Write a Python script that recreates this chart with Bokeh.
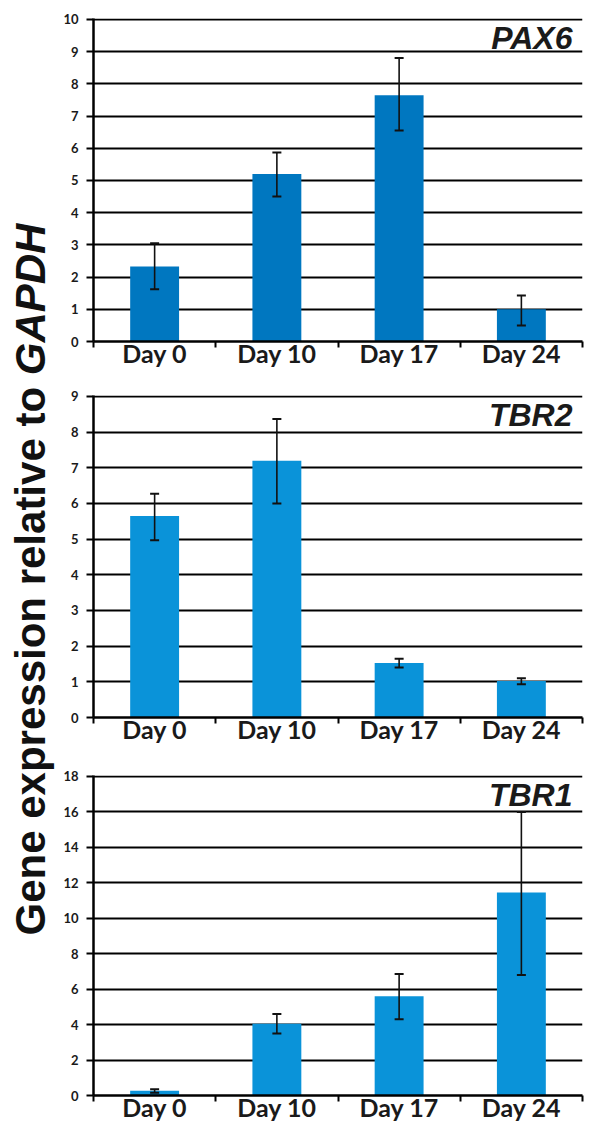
import math
from bokeh.plotting import figure
from bokeh.layouts import row, column
from bokeh.models import (FactorRange, Range1d, LinearAxis, FixedTicker,
                          SingleIntervalTicker, Whisker, TeeHead, ColumnDataSource, Label)
from bokeh.core.properties import value
from bokeh.embed import file_html
from bokeh.resources import INLINE

# ---------------- data ----------------
days = ["Day 0", "Day 10", "Day 17", "Day 24"]
genes = ["PAX6", "TBR2", "TBR1"]

pax6_mean = [2.33, 5.20, 7.65, 1.00]
pax6_low = [1.62, 4.50, 6.55, 0.50]
pax6_high = [3.05, 5.87, 8.80, 1.43]

tbr2_mean = [5.65, 7.20, 1.53, 1.02]
tbr2_low = [4.97, 6.00, 1.40, 0.93]
tbr2_high = [6.27, 8.37, 1.65, 1.10]

tbr1_mean = [0.27, 4.05, 5.60, 11.45]
tbr1_low = [0.15, 3.50, 4.30, 6.80]
tbr1_high = [0.35, 4.60, 6.85, 16.00]

y_max = [10, 9, 18]
y_step = [1, 1, 2]
bar_colors = ["#0077c0", "#0a93d9", "#0a93d9"]
y_label_main = "Gene expression relative to "
y_label_gene = "GAPDH"

TICK_FONT = "Lato"
TITLE_FONT = "Liberation Sans"

LAB_W = 60
PANEL_W = 592 - LAB_W


def make_panel(gene, mean, low, high, ymax, step, color, height, btop, bbottom):
    p = figure(x_range=FactorRange(*days), y_range=Range1d(0, ymax * 1.003),
               width=PANEL_W, height=height, output_backend="svg", toolbar_location=None,
               x_axis_location=None, min_border_left=91 - LAB_W, min_border_right=10,
               min_border_top=btop, min_border_bottom=bbottom)
    p.outline_line_color = None
    p.background_fill_color = "white"
    p.border_fill_color = "white"
    p.xgrid.visible = False

    # y axis
    yax = p.yaxis[0]
    yax.ticker = SingleIntervalTicker(interval=step)
    yax.axis_line_color = "black"
    yax.axis_line_width = 2.5
    yax.major_tick_out = 7
    yax.major_tick_in = 0
    yax.major_tick_line_width = 2
    yax.major_tick_line_color = "black"
    yax.minor_tick_out = 0
    yax.minor_tick_in = 0
    yax.major_label_text_font = TICK_FONT
    yax.major_label_text_font_style = "bold"
    yax.major_label_text_font_size = "13px"
    yax.major_label_text_color = "#1a1a1a"
    yax.major_label_standoff = 8

    p.ygrid.grid_line_color = "black"
    p.ygrid.grid_line_width = 2

    # x axis: labels at category centres, ticks at category boundaries
    centres = [i + 0.5 for i in range(len(days))]
    edges = [float(i) for i in range(len(days) + 1)]
    xax = LinearAxis(ticker=FixedTicker(ticks=centres, minor_ticks=edges),
                     major_label_overrides={c: d for c, d in zip(centres, days)},
                     major_tick_out=0, major_tick_in=0,
                     minor_tick_out=6, minor_tick_in=0,
                     minor_tick_line_width=2, minor_tick_line_color="black",
                     axis_line_color="black", axis_line_width=2.5,
                     major_label_standoff=-10,
                     major_label_text_font=TICK_FONT,
                     major_label_text_font_style="bold",
                     major_label_text_font_size="25px",
                     major_label_text_color="#1a1a1a")
    p.add_layout(xax, "below")

    src = ColumnDataSource(dict(day=days, mean=mean, low=low, high=high))
    p.vbar(x="day", top="mean", width=0.4, source=src, fill_color=color,
           line_color=None)
    w = Whisker(source=src, base="day", upper="high", lower="low", level="overlay",
                line_color="#111111", line_width=1.6,
                upper_head=TeeHead(size=9, line_width=2, line_color="#111111"),
                lower_head=TeeHead(size=9, line_width=2, line_color="#111111"))
    p.add_layout(w)

    p.add_layout(Label(x=len(days), y=ymax,
                       x_offset=-10, y_offset=-1, text=gene,
                       text_align="right", text_baseline="top",
                       text_font=TITLE_FONT, text_font_style="bold italic",
                       text_font_size="32px", text_color="#1a1a1a"))
    return p


H1, H2, H3 = 372, 376, 376
p1 = make_panel(genes[0], pax6_mean, pax6_low, pax6_high, y_max[0], y_step[0],
                bar_colors[0], H1, 18, 31)
p2 = make_panel(genes[1], tbr2_mean, tbr2_low, tbr2_high, y_max[1], y_step[1],
                bar_colors[1], H2, 23, 31)
p3 = make_panel(genes[2], tbr1_mean, tbr1_low, tbr1_high, y_max[2], y_step[2],
                bar_colors[2], H3, 27, 29)

total_h = H1 + H2 + H3
lab = figure(width=LAB_W, height=total_h, x_range=Range1d(0, LAB_W), y_range=Range1d(0, total_h),
             x_axis_location=None, y_axis_location=None, min_border=0,
             output_backend="svg", toolbar_location=None)
lab.outline_line_color = None
lab.grid.visible = False
fs = 42
start_y = total_h - 935
main_w = 13.339 * fs
lab_x = 30
lab.text(x=[lab_x], y=[start_y], text=[y_label_main], angle=math.pi / 2,
         text_font=value(TITLE_FONT), text_font_style="bold", text_font_size=f"{fs}px",
         text_align="left", text_baseline="alphabetic", text_color="#111111")
lab.text(x=[lab_x], y=[start_y + main_w], text=[y_label_gene], angle=math.pi / 2,
         text_font=value(TITLE_FONT), text_font_style="bold italic", text_font_size=f"{fs}px",
         text_align="left", text_baseline="alphabetic", text_color="#111111")

layout = row(lab, column(p1, p2, p3, spacing=0), spacing=0)
open("out.html", "w").write(file_html(layout, INLINE))
